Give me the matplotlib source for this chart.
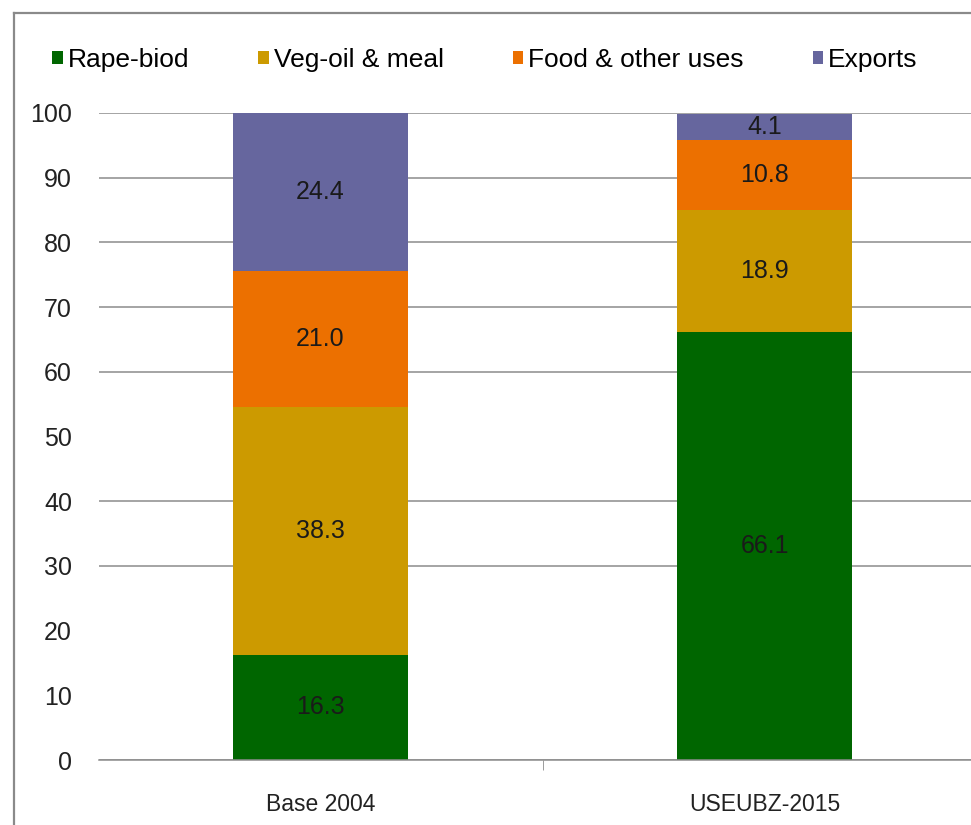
import numpy as np
import matplotlib.pyplot as plt
from matplotlib.lines import Line2D

plt.rcParams['font.family'] = ['Liberation Sans', 'DejaVu Sans']

# data
categories = ["Base 2004", "USEUBZ-2015"]
series = ["Rape-biod", "Veg-oil & meal", "Food & other uses", "Exports"]
rape_biod = [16.3, 66.1]
veg_oil = [38.3, 18.9]
food_other = [21.0, 10.8]
exports = [24.4, 4.1]
grid_vals = [0, 30, 40, 60, 70, 80, 90, 100]

colors = ["#006600", "#CC9A00", "#EC7000", "#66669E"]

fig = plt.figure(figsize=(9.71, 8.25), dpi=100)
W, H = 971, 825
ax = fig.add_axes([98.5 / W, 1 - 760 / H, 888 / W, 647 / H])

# outer frame (top and left edges visible)
fig.add_artist(Line2D([14 / W, 14 / W], [0, 1 - 13 / H], transform=fig.transFigure,
                      color="#8a8a8a", lw=1.6))
fig.add_artist(Line2D([14 / W, 1], [1 - 13 / H, 1 - 13 / H], transform=fig.transFigure,
                      color="#8a8a8a", lw=1.6))

x = np.arange(len(categories))
width = 0.396
bottom = np.zeros(len(categories))
handles = []
for vals, col, name in zip([rape_biod, veg_oil, food_other, exports], colors, series):
    b = ax.bar(x, vals, width, bottom=bottom, color=col, label=name, zorder=2)
    handles.append(b)
    for xi, v, b0 in zip(x, vals, bottom):
        ax.text(xi, b0 + v / 2, f"{v:.1f}", ha="center", va="center",
                fontsize=18, color="#1a1a1a", zorder=3)
    bottom += np.array(vals)

for g in grid_vals:
    ax.axhline(g, color="#8c8c8c", lw=1.1, zorder=1)

ax.set_xlim(-0.5, 1.5)
ax.set_ylim(0, 100)
ax.set_yticks(np.arange(0, 101, 10))
ax.tick_params(axis="y", length=0, pad=19, labelsize=18, labelcolor="#222222")
ax.set_xticks(x)
ax.set_xticklabels(categories)
ax.tick_params(axis="x", which="major", length=0, pad=24, labelsize=16.5, labelcolor="#222222")
ax.set_xticks([0.5], minor=True)
ax.tick_params(axis="x", which="minor", length=7, color="#8c8c8c", direction="out")

for s in ["top", "right", "left"]:
    ax.spines[s].set_visible(False)
ax.spines["bottom"].set_color("#8c8c8c")
ax.spines["bottom"].set_linewidth(1.1)

fig.legend(handles=handles, labels=series, loc="center",
           bbox_to_anchor=(485 / W, 1 - 60 / H), ncol=4, frameon=False,
           fontsize=19, handlelength=0.4, handleheight=0.4, handletextpad=0.2,
           columnspacing=2.6)

fig.savefig("out.png", dpi=100)
